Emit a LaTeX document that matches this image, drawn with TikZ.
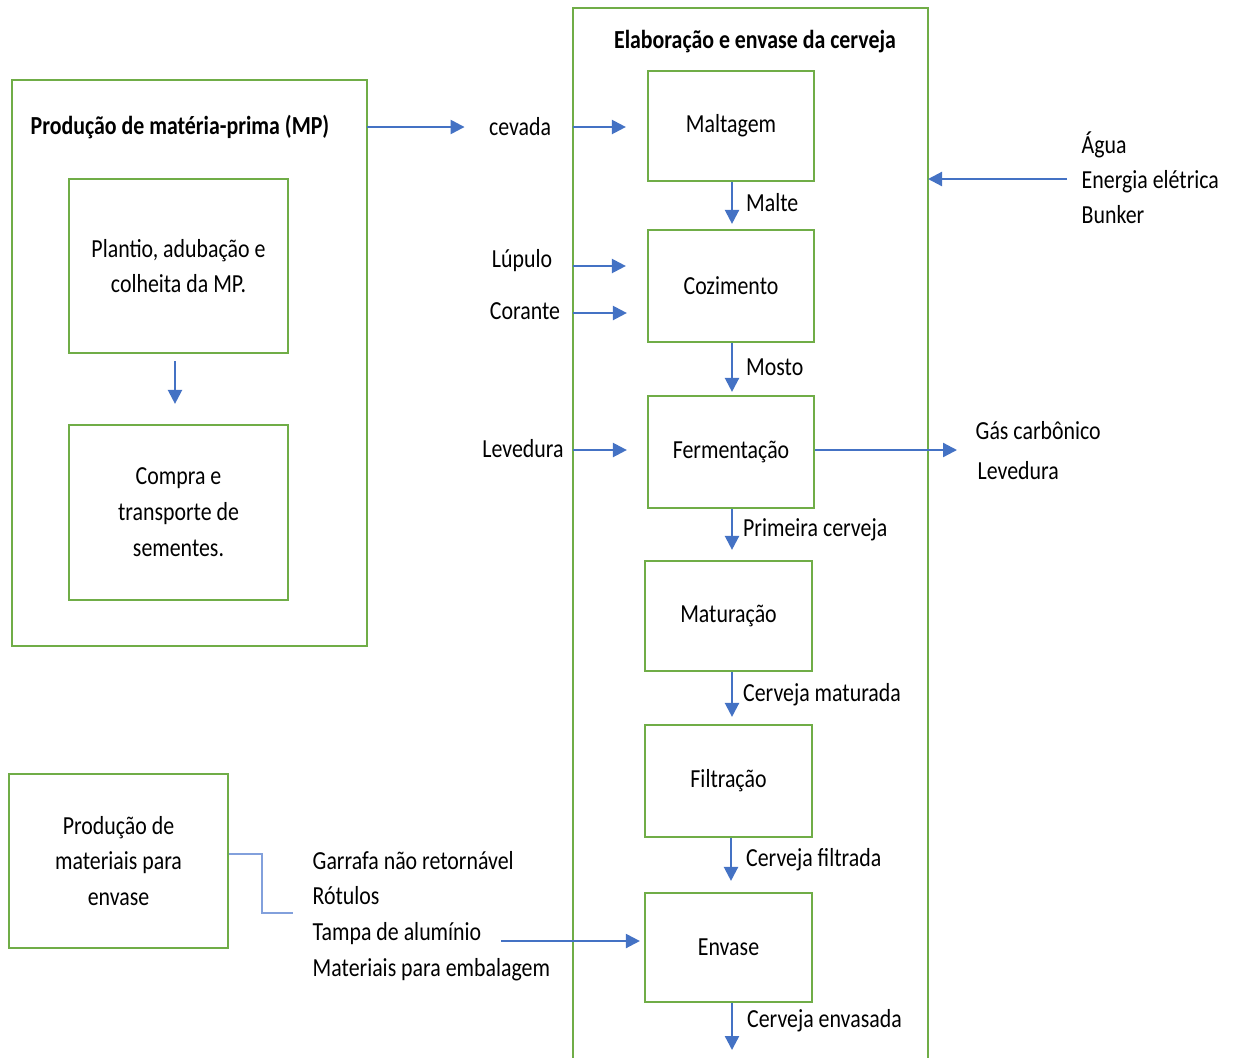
\documentclass[tikz,border=0pt]{standalone}
\usepackage{fontspec}
\setmainfont{Carlito}[FakeStretch=0.84]
\usetikzlibrary{arrows.meta,positioning}
\definecolor{boxgreen}{RGB}{112,173,71}
\definecolor{arrowblue}{RGB}{68,114,196}
\definecolor{lightblue}{RGB}{130,160,220}
\tikzset{
  box/.style={draw=boxgreen, line width=0.6pt, align=center, inner sep=0pt},
  arr/.style={draw=arrowblue, line width=0.65pt, -{Triangle[length=1.4mm,width=1.4mm]}},
  lbl/.style={inner sep=0pt, align=left},
  txt/.style={font=\fontsize{7.4}{10.2}\selectfont}
}
\begin{document}
\begin{tikzpicture}[x=0.01cm, y=-0.01cm, txt]
  \useasboundingbox (0,0) rectangle (1237,1057);

  % Producao de materia-prima
  \draw[boxgreen, line width=0.6pt] (12,80) rectangle (367,646);
  \node[font=\fontsize{7.4}{10.2}\selectfont\bfseries] (mp) at (180,127) {Produção de matéria-prima (MP)};
  \node[box, minimum width=2.19cm, minimum height=1.74cm] (plantio) at (178.5,266) {Plantio, adubação e\\colheita da MP.};
  \node[box, minimum width=2.19cm, minimum height=1.75cm] (compra) at (178.5,512.5) {Compra e\\transporte de\\sementes.};
  \draw[arr] ([xshift=-0.035cm, yshift=-0.07cm]plantio.south) -- ([xshift=-0.035cm, yshift=0.2cm]compra.north);

  % Elaboracao e envase
  \draw[boxgreen, line width=0.6pt] (573,1065) -- (573,8) -- (928,8) -- (928,1065);
  \node[font=\fontsize{7.4}{10.2}\selectfont\bfseries] (elab) at (755,42) {Elaboração e envase da cerveja};

  \node[box, minimum width=1.66cm, minimum height=1.10cm] (malt) at (731,126) {Maltagem};
  \node[box, minimum width=1.66cm, minimum height=1.12cm] (coz) at (731,286) {Cozimento};
  \node[box, minimum width=1.66cm, minimum height=1.12cm] (ferm) at (731,452) {Fermentação};
  \node[box, minimum width=1.67cm, minimum height=1.10cm] (mat) at (728.5,616) {Maturação};
  \node[box, minimum width=1.67cm, minimum height=1.12cm] (filt) at (728.5,781) {Filtração};
  \node[box, minimum width=1.67cm, minimum height=1.09cm] (env) at (728.5,947.5) {Envase};
  \coordinate (saida) at (732,1050);

  % fluxo principal
  \draw[arr] (malt.south -| 732,0) -- node[lbl, right=0.13cm] {Malte} ([yshift=0.05cm]coz.north -| 732,0);
  \draw[arr] (coz.south -| 732,0) -- node[lbl, right=0.13cm] {Mosto} ([yshift=0.03cm]ferm.north -| 732,0);
  \draw[arr] (ferm.south -| 732,0) -- node[lbl, right=0.1cm] {Primeira cerveja} ([yshift=0.1cm]mat.north -| 732,0);
  \draw[arr] (mat.south -| 732,0) -- node[lbl, right=0.1cm] {Cerveja maturada} ([yshift=0.07cm]filt.north -| 732,0);
  \draw[arr] (filt.south -| 731,0) -- node[lbl, right=0.14cm] {Cerveja filtrada} ([yshift=0.11cm]env.north -| 731,0);
  \draw[arr] (env.south -| 732,0) -- node[lbl, right=0.14cm, yshift=0.06cm] {Cerveja envasada} (saida);

  % entradas
  \node (cevada) at (520,127) {cevada};
  \draw[arr] (mp.east -| 367,0) -- ([xshift=-0.12cm]cevada.west);
  \draw[arr] (573,127) -- ([xshift=-0.21cm]malt.west |- 0,127);
  \node (lupulo) at (522,261) {Lúpulo};
  \draw[arr] (573,266) -- ([xshift=-0.21cm]coz.west |- 0,266);
  \node (corante) at (525,311) {Corante};
  \draw[arr] (573,313) -- ([xshift=-0.2cm]coz.west |- 0,313);
  \node (levin) at (523,449) {Levedura};
  \draw[arr] (573,450) -- ([xshift=-0.2cm]ferm.west |- 0,450);

  % utilidades
  \node[lbl, anchor=west, font=\fontsize{7.4}{10}\selectfont] (util) at (1081,178) {Água\\Energia elétrica\\Bunker};
  \draw[arr] ([xshift=-0.14cm]util.west |- 0,179) -- (928,179);

  % saidas da fermentacao
  \node[lbl, anchor=west] (gas) at (975,431) {Gás carbônico};
  \node[lbl, anchor=west] (levout) at (977,471) {Levedura};
  \draw[arr] (ferm.east |- 0,450) -- (957,450);

  % materiais para envase
  \node[box, minimum width=2.19cm, minimum height=1.74cm] (matenv) at (118.5,861) {Produção de\\materiais para\\envase};
  \node[lbl, anchor=west] (mats) at (312,916) {Garrafa não retornável\\Rótulos\\Tampa de alumínio\\Materiais para embalagem};
  \draw[lightblue, line width=0.6pt] (matenv.east |- 0,854) -- (262,854) |- ([xshift=-0.19cm]mats.west |- 0,913);
  \draw[arr] (501,941) -- ([xshift=-0.04cm]env.west |- 0,941);
\end{tikzpicture}
\end{document}
